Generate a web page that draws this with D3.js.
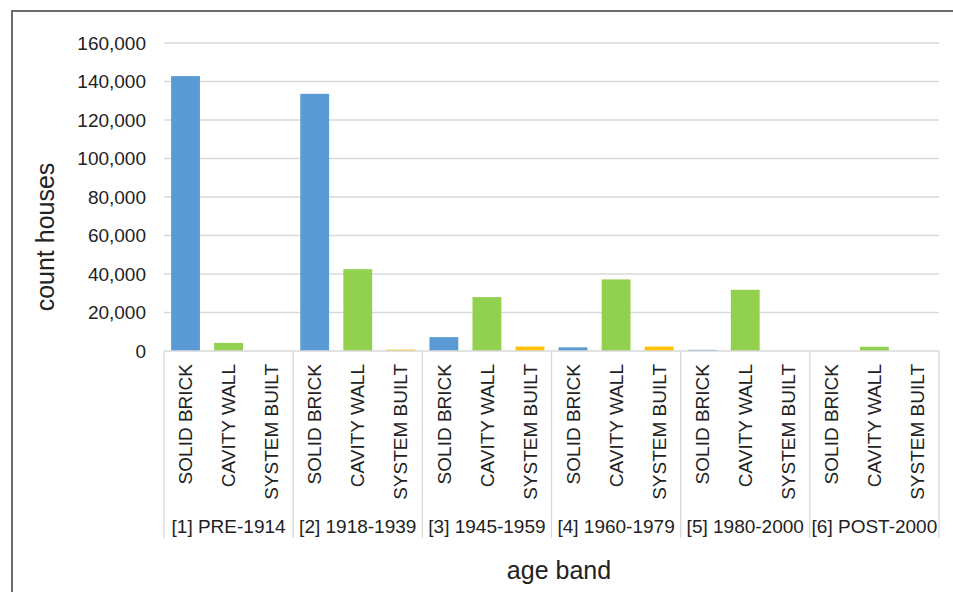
<!DOCTYPE html>
<html>
<head>
<meta charset="utf-8">
<script src="https://cdn.jsdelivr.net/npm/d3@7"></script>
<style>
  body { margin: 0; background: #fff; }
  text { font-family: "Liberation Sans", Arial, sans-serif; fill: #222; }
</style>
</head>
<body>
<div id="chart"></div>
<script>
// age bands and wall types
var ageBands = ["[1] PRE-1914", "[2] 1918-1939", "[3] 1945-1959", "[4] 1960-1979", "[5] 1980-2000", "[6] POST-2000"];
var wallTypes = ["SOLID BRICK", "CAVITY WALL", "SYSTEM BUILT"];
// counts per age band, one array per wall type
var solidBrick  = [142800, 133600, 7200, 1900, 600, 0];
var cavityWall  = [4200, 42500, 28000, 37200, 31800, 2200];
var systemBuilt = [0, 700, 2300, 2300, 0, 0];
var yTicks = [0, 20000, 40000, 60000, 80000, 100000, 120000, 140000, 160000];

var colors = ["#5b9bd5", "#92d050", "#ffc000"];

var W = 953, H = 592;
var margin = {top: 43, right: 14, bottom: 241, left: 164};
var width = W - margin.left - margin.right;
var height = H - margin.top - margin.bottom;

var svg = d3.select("#chart").append("svg")
    .attr("width", W)
    .attr("height", H);

// outer frame (left and top edges visible)
svg.append("path")
    .attr("d", "M12,592 V11 H953")
    .attr("fill", "none")
    .attr("stroke", "#6b6b6b")
    .attr("stroke-width", 2);

var g = svg.append("g")
    .attr("transform", "translate(" + margin.left + "," + margin.top + ")");

var y = d3.scaleLinear().domain([0, 160000]).range([height, 0]);

var x0 = d3.scaleBand().domain(ageBands).range([0, width]);
var x1 = d3.scaleBand().domain(wallTypes).range([0, x0.bandwidth()])
    .paddingInner(0.33).paddingOuter(0.165);

var data = [];
ageBands.forEach(function(a, i) {
  data.push({age: a, type: wallTypes[0], value: solidBrick[i], c: 0});
  data.push({age: a, type: wallTypes[1], value: cavityWall[i], c: 1});
  data.push({age: a, type: wallTypes[2], value: systemBuilt[i], c: 2});
});

// gridlines
g.selectAll(".grid")
  .data(yTicks.filter(function(d){ return d > 0; }))
  .enter().append("line")
    .attr("x1", 0).attr("x2", width)
    .attr("y1", function(d){ return y(d); })
    .attr("y2", function(d){ return y(d); })
    .attr("stroke", "#d9d9d9")
    .attr("stroke-width", 1.3);

// y labels
g.selectAll(".ylab")
  .data(yTicks)
  .enter().append("text")
    .attr("x", -18)
    .attr("y", function(d){ return y(d); })
    .attr("dy", "0.35em")
    .attr("text-anchor", "end")
    .style("font-size", "19px")
    .text(function(d){ return d3.format(",")(d); });

// bars
g.selectAll(".bar")
  .data(data)
  .enter().append("rect")
    .attr("x", function(d){ return x0(d.age) + x1(d.type); })
    .attr("y", function(d){ return y(d.value); })
    .attr("width", x1.bandwidth())
    .attr("height", function(d){ return height - y(d.value); })
    .attr("fill", function(d){ return colors[d.c]; });

// x axis line
g.append("line")
    .attr("x1", 0).attr("x2", width)
    .attr("y1", height).attr("y2", height)
    .attr("stroke", "#d9d9d9")
    .attr("stroke-width", 1.3);

// group separators
var bounds = ageBands.map(function(a){ return x0(a); }).concat([width]);
g.selectAll(".sep")
  .data(bounds)
  .enter().append("line")
    .attr("x1", function(d){ return d; })
    .attr("x2", function(d){ return d; })
    .attr("y1", height).attr("y2", height + 187)
    .attr("stroke", "#d9d9d9")
    .attr("stroke-width", 1.3);

// category labels
g.selectAll(".catlab")
  .data(data)
  .enter().append("text")
    .attr("transform", function(d){
      return "translate(" + (x0(d.age) + x1(d.type) + x1.bandwidth() / 2) + "," + (height + 13) + ") rotate(-90)";
    })
    .attr("dy", "0.35em")
    .attr("text-anchor", "end")
    .style("font-size", "19px")
    .text(function(d){ return d.type; });

// age band labels
g.selectAll(".agelab")
  .data(ageBands)
  .enter().append("text")
    .attr("x", function(d){ return x0(d) + x0.bandwidth() / 2; })
    .attr("y", height + 182)
    .attr("text-anchor", "middle")
    .style("font-size", "19px")
    .text(function(d){ return d; });

// axis titles
svg.append("text")
    .attr("transform", "translate(45,237) rotate(-90)")
    .attr("dy", "0.35em")
    .attr("text-anchor", "middle")
    .style("font-size", "25px")
    .text("count houses");

svg.append("text")
    .attr("x", 559)
    .attr("y", 579)
    .attr("text-anchor", "middle")
    .style("font-size", "25px")
    .text("age band");
</script>
</body>
</html>
